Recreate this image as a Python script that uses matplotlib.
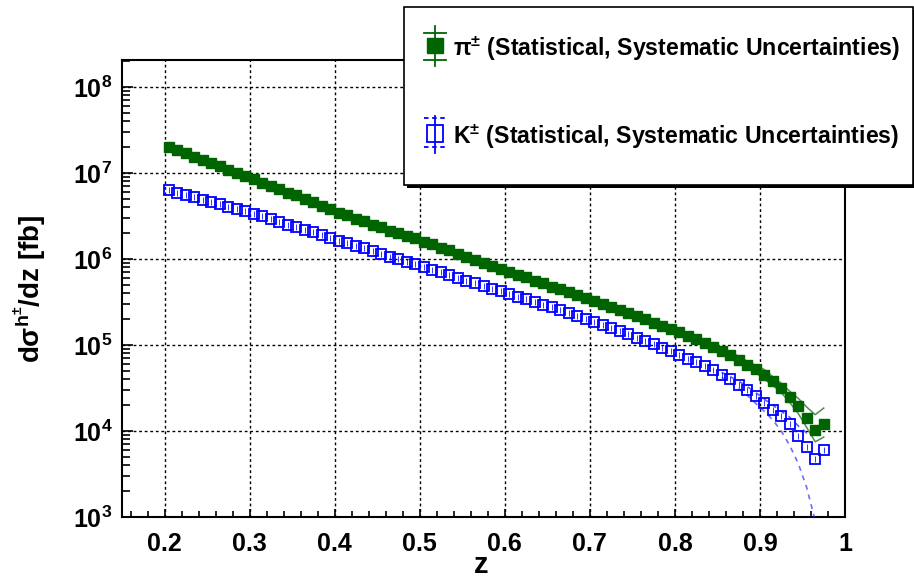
import numpy as np
import matplotlib
matplotlib.use('Agg')
import matplotlib.pyplot as plt
from matplotlib.ticker import MultipleLocator, FixedLocator, FuncFormatter, LogLocator, NullFormatter
from matplotlib.patches import Rectangle

plt.rcParams['font.family'] = ['Liberation Sans', 'DejaVu Sans']
plt.rcParams['font.weight'] = 'bold'
plt.rcParams['mathtext.fontset'] = 'custom'
plt.rcParams['mathtext.rm'] = 'Liberation Sans:bold'
plt.rcParams['mathtext.bf'] = 'Liberation Sans:bold'
plt.rcParams['mathtext.it'] = 'Liberation Sans:bold'
plt.rcParams['mathtext.default'] = 'bf'

# bin centres in z
z = np.round(np.arange(0.205, 0.976, 0.01), 3)

# pi+- cross section [fb]
pion = [2.04e7, 1.86e7, 1.70e7, 1.55e7, 1.43e7, 1.32e7, 1.20e7, 1.10e7, 1.00e7, 9.33e6,
        8.51e6, 7.76e6, 7.08e6, 6.46e6, 5.89e6, 5.50e6, 5.01e6, 4.57e6, 4.17e6, 3.80e6,
        3.47e6, 3.24e6, 2.95e6, 2.75e6, 2.51e6, 2.34e6, 2.14e6, 2.00e6, 1.86e6, 1.74e6,
        1.58e6, 1.48e6, 1.35e6, 1.26e6, 1.15e6, 1.07e6, 9.77e5, 9.12e5, 8.32e5, 7.76e5,
        7.08e5, 6.61e5, 6.17e5, 5.62e5, 5.25e5, 4.79e5, 4.47e5, 4.17e5, 3.80e5, 3.55e5,
        3.24e5, 3.02e5, 2.75e5, 2.57e5, 2.34e5, 2.19e5, 2.00e5, 1.82e5, 1.66e5, 1.55e5,
        1.41e5, 1.29e5, 1.17e5, 1.07e5, 9.55e4, 8.51e4, 7.59e4, 6.76e4, 5.89e4, 5.25e4,
        4.47e4, 3.80e4, 3.16e4, 2.51e4, 1.95e4, 1.41e4, 1.02e4, 1.20e4]

# K+- cross section [fb]
kaon = [6.31e6, 5.89e6, 5.56e6, 5.25e6, 4.90e6, 4.57e6, 4.37e6, 4.07e6, 3.80e6, 3.59e6,
        3.39e6, 3.16e6, 2.95e6, 2.69e6, 2.51e6, 2.34e6, 2.19e6, 2.04e6, 1.91e6, 1.78e6,
        1.64e6, 1.53e6, 1.43e6, 1.33e6, 1.23e6, 1.15e6, 1.07e6, 1.00e6, 9.33e5, 8.71e5,
        8.04e5, 7.50e5, 7.00e5, 6.46e5, 6.03e5, 5.62e5, 5.25e5, 4.90e5, 4.52e5, 4.22e5,
        3.94e5, 3.67e5, 3.43e5, 3.16e5, 2.95e5, 2.75e5, 2.54e5, 2.37e5, 2.19e5, 2.02e5,
        1.86e5, 1.72e5, 1.58e5, 1.45e5, 1.33e5, 1.22e5, 1.12e5, 1.02e5, 9.33e4, 8.51e4,
        7.67e4, 6.92e4, 6.31e4, 5.69e4, 5.07e4, 4.52e4, 3.98e4, 3.47e4, 3.02e4, 2.57e4,
        2.14e4, 1.78e4, 1.48e4, 1.20e4, 8.71e3, 6.46e3, 4.68e3, 6.03e3]

# systematic band edges at high z
z_sys = [0.855, 0.865, 0.875, 0.885, 0.895, 0.905, 0.915, 0.925, 0.935, 0.945, 0.955, 0.965, 0.975]
pion_up = [9.2e4, 8.3e4, 7.4e4, 6.5e4, 5.8e4, 5.2e4, 4.3e4, 3.6e4, 2.9e4, 2.4e4, 1.9e4, 1.55e4, 1.85e4]
pion_lo = [7.9e4, 7.0e4, 6.2e4, 5.4e4, 4.8e4, 4.0e4, 3.4e4, 2.8e4, 2.15e4, 1.6e4, 1.1e4, 7.5e3, 8.5e3]
kaon_up = [4.8e4, 4.3e4, 3.8e4, 3.3e4, 2.8e4, 2.35e4, 2.0e4, 1.7e4, 1.45e4, 1.15e4, 9.5e3, 1.0e4, 1.35e4]
kaon_lo = [4.2e4, 3.65e4, 3.1e4, 2.6e4, 2.1e4, 1.7e4, 1.35e4, 1.0e4, 6.8e3, 4.2e3, 2.2e3, 9.0e2, 3.0e2]

green = '#006400'
blue = '#0000ff'

fig = plt.figure(figsize=(9.14, 5.80), dpi=100)
ax = fig.add_axes([122/914, 1 - 517/580, (845 - 122)/914, (517 - 60)/580])

ax.plot(z_sys, pion_up, color='#4f8f4f', lw=1.1, zorder=4)
ax.plot(z_sys, pion_lo, color='#4f8f4f', lw=1.1, zorder=4)
ax.plot(z_sys, kaon_up, color='#3030ff', lw=1.2, ls=(0, (3, 3)), alpha=0.8, zorder=4)
ax.plot(z_sys, kaon_lo, color='#3030ff', lw=1.2, ls=(0, (3, 3)), alpha=0.7, zorder=4)

ax.plot(z, pion, ls='none', marker='s', ms=7.4, color=green, mec=green, zorder=5)
ax.plot(z, kaon, ls='none', marker='s', ms=7.2, mfc='none', mec=blue, mew=1.3, zorder=5)
ax.plot(z, kaon, ls='none', marker='|', ms=4, color=blue, mew=0.7, alpha=0.8, zorder=5)

ax.set_yscale('log')
ax.set_xlim(0.15, 1.0)
ax.set_ylim(1e3, 10**8.316)

ax.xaxis.set_major_locator(MultipleLocator(0.1))
ax.xaxis.set_minor_locator(MultipleLocator(0.02))
ax.xaxis.set_major_formatter(FuncFormatter(lambda v, p: '%g' % round(v, 2)))
ax.yaxis.set_major_locator(FixedLocator([1e3, 1e4, 1e5, 1e6, 1e7, 1e8]))
ax.yaxis.set_major_formatter(FuncFormatter(lambda v, p: r'$10^{%d}$' % round(np.log10(v))))
ax.yaxis.set_minor_locator(LogLocator(base=10, subs=np.arange(2, 10), numticks=20))
ax.yaxis.set_minor_formatter(NullFormatter())

ax.tick_params(axis='both', which='both', direction='in', top=False, right=False,
               width=1.2, labelsize=18)
ax.tick_params(axis='x', which='major', length=6, pad=11)
ax.tick_params(axis='x', which='minor', length=4)
ax.tick_params(axis='y', which='major', length=8, pad=7)
ax.tick_params(axis='y', which='minor', length=6)
for s in ax.spines.values():
    s.set_linewidth(1.5)

ax.grid(True, which='major', color='black', lw=1, ls=(0, (2, 2)))
ax.set_axisbelow(True)

fig.text(481/914, 1 - 579/580, 'z', fontsize=21, fontweight='bold', ha='center', va='bottom')
fig.text(30/914, 1 - 289/580, r'd$\sigma^{h^{\pm}}$/dz [fb]', fontsize=20, fontweight='bold',
         rotation=90, ha='center', va='center')

# legend box in pixel coordinates
lax = fig.add_axes([0, 0, 1, 1], zorder=10)
lax.set_xlim(0, 914)
lax.set_ylim(580, 0)
lax.axis('off')
lax.add_patch(Rectangle((407, 10), 520, 178, facecolor='black', edgecolor='none'))
lax.add_patch(Rectangle((404, 7), 509, 178, facecolor='white', edgecolor='black', lw=1.2))

# pi entry
lax.plot([435, 435], [26, 66], color=green, lw=1.3)
lax.plot([424, 446], [33, 33], color=green, lw=1.3)
lax.plot([424, 446], [60, 60], color=green, lw=1.3)
lax.add_patch(Rectangle((427, 38), 16, 15, facecolor=green, edgecolor=green))
lax.text(453, 49, r'$\pi^{\pm}$ (Statistical, Systematic Uncertainties)', fontsize=16.7,
         fontweight='bold', ha='left', va='center', color='black')

# K entry
lax.plot([435, 435], [116, 153], color=blue, lw=1.3)
lax.plot([424, 446], [118, 118], color=blue, lw=1.3, ls=(0, (2.5, 2)))
lax.plot([424, 446], [147, 147], color=blue, lw=1.3, ls=(0, (2.5, 2)))
lax.add_patch(Rectangle((427, 125), 16, 17, facecolor='none', edgecolor=blue, lw=1.3))
lax.text(453, 137, r'K$^{\pm}$ (Statistical, Systematic Uncertainties)', fontsize=16.7,
         fontweight='bold', ha='left', va='center', color='black')

fig.savefig('out.png', dpi=100)
